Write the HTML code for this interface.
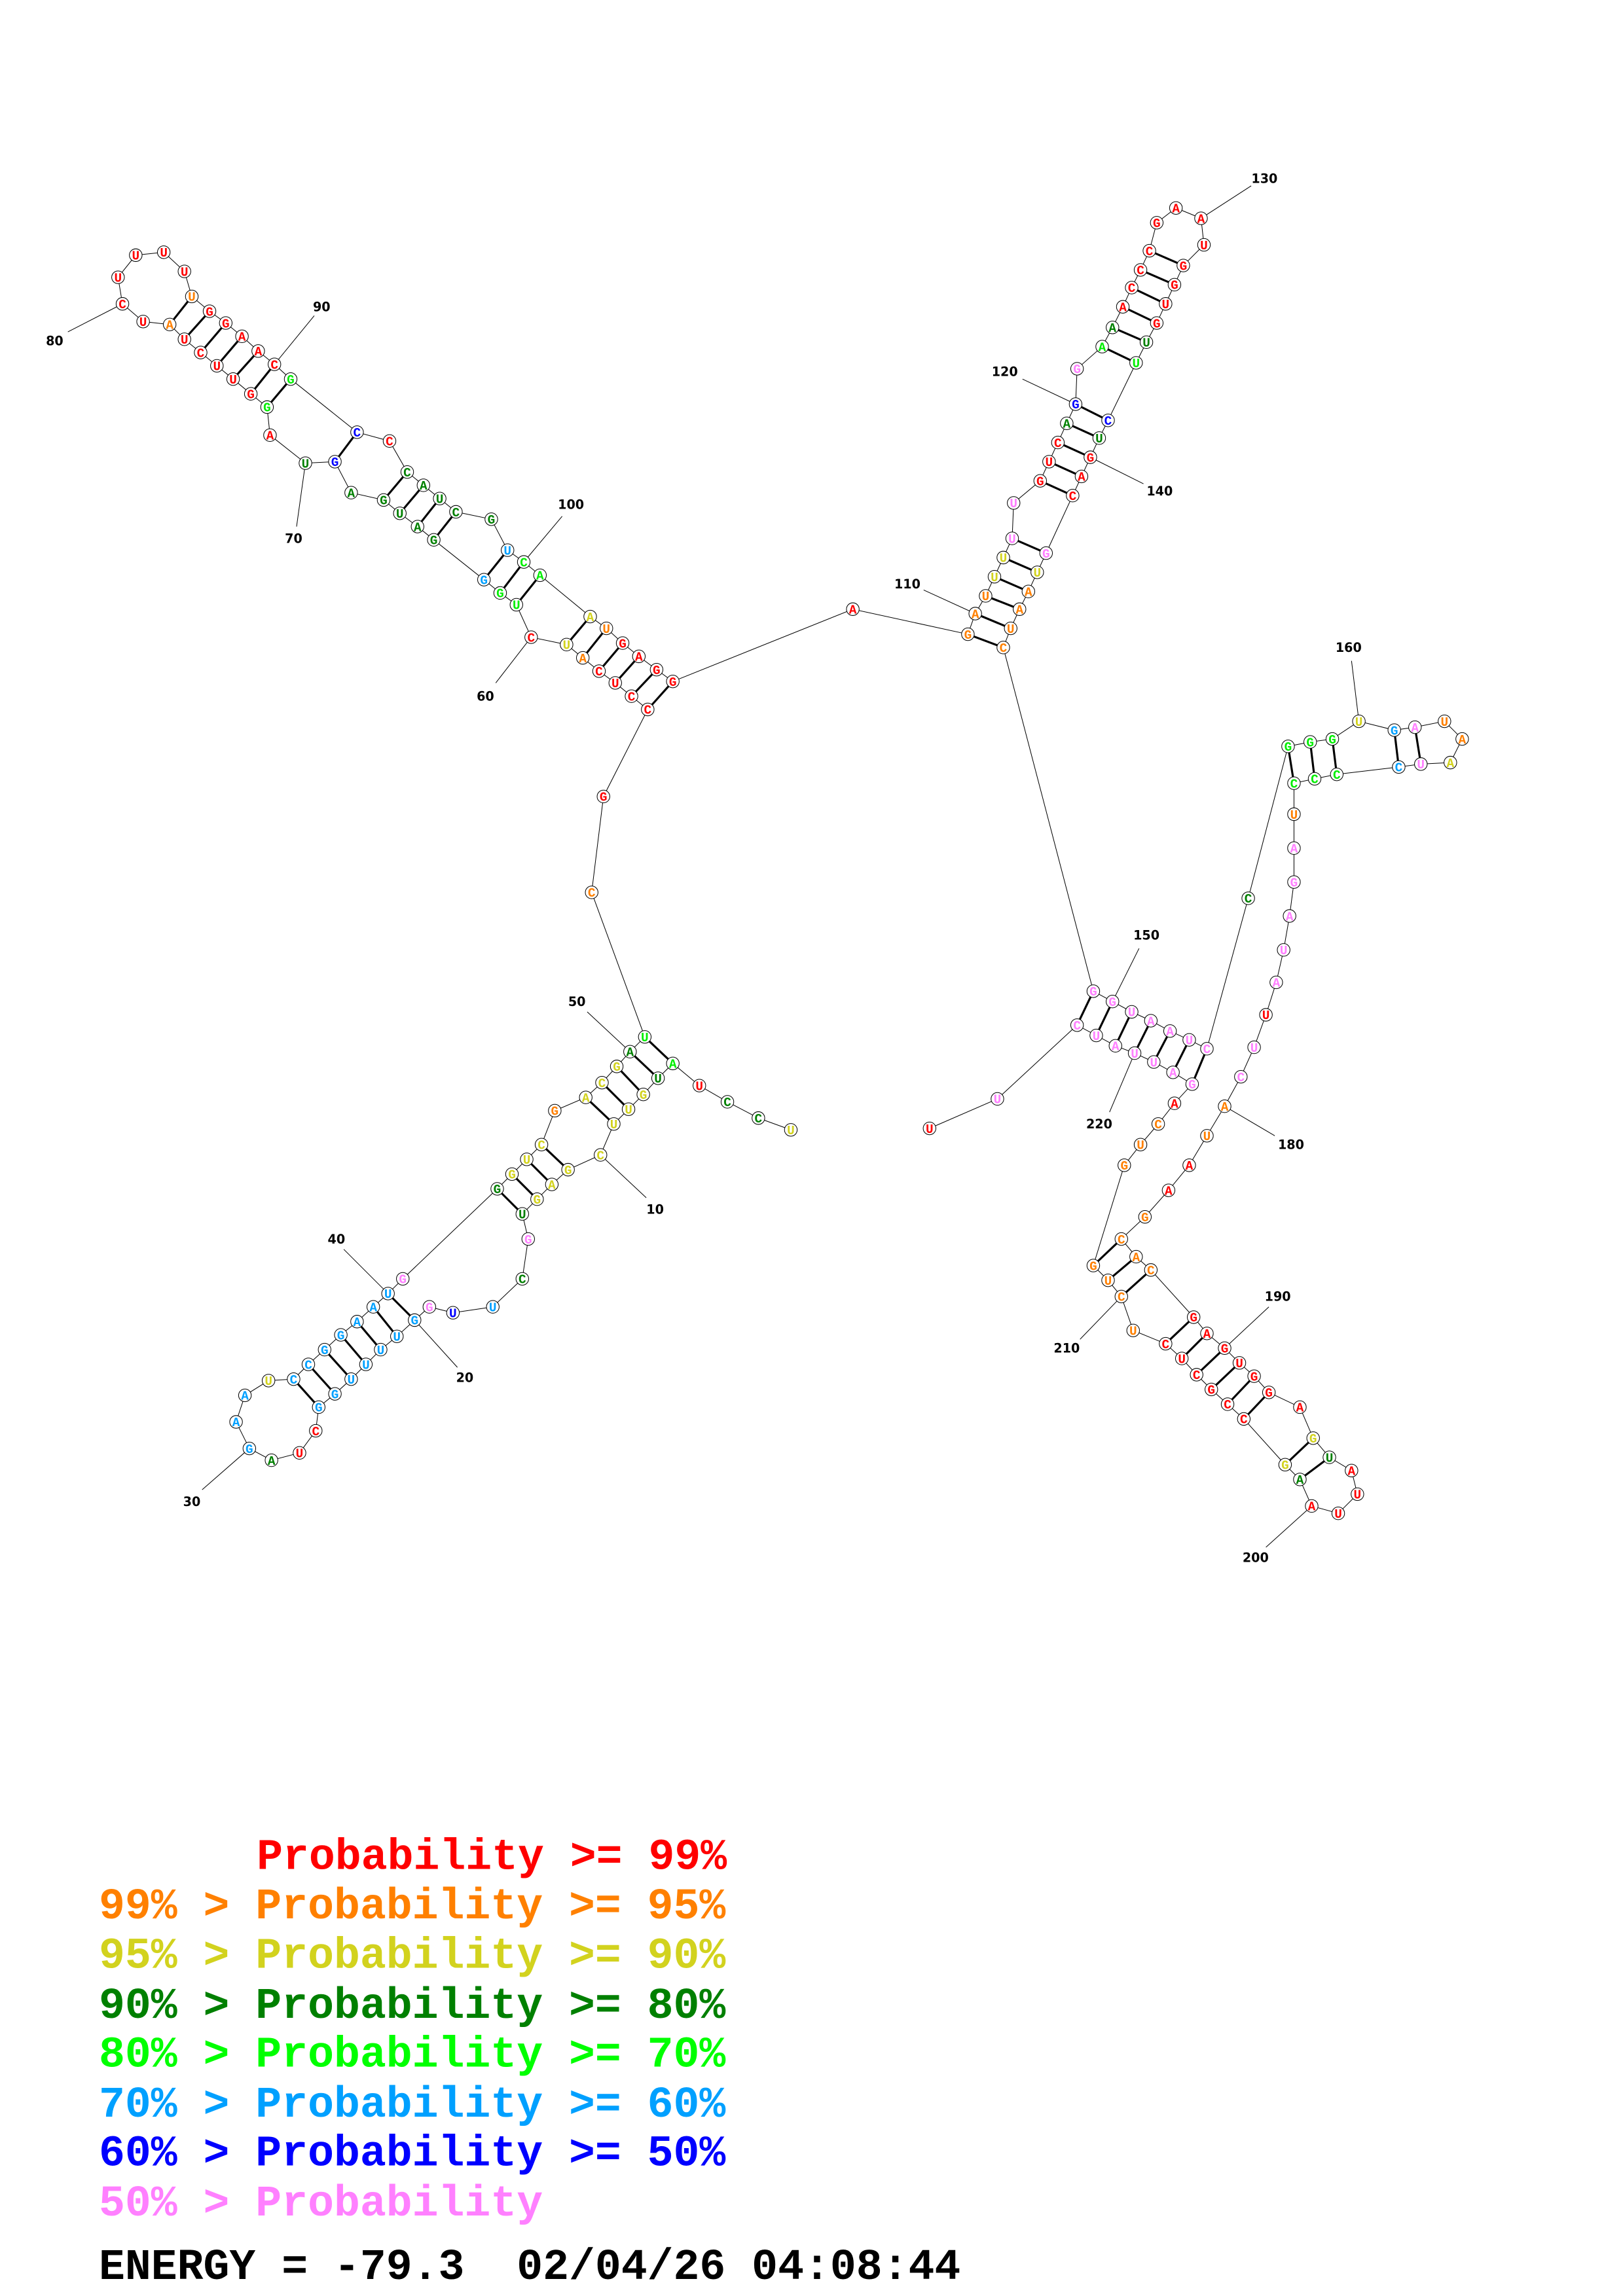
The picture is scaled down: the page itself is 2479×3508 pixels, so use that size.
<!DOCTYPE html>
<html><head><meta charset="utf-8">
<style>
html,body{margin:0;padding:0;background:#fff;}
svg{display:block;}
.n circle{fill:#fff;stroke:#000;stroke-width:0.45;}
.n text{font-family:"Liberation Mono",monospace;font-weight:bold;font-size:8.6px;text-anchor:middle;}
.R{fill:#ff0000}.O{fill:#ff8000}.Y{fill:#d2d21e}.D{fill:#008000}.G{fill:#00ee00}.C{fill:#00a0ff}.B{fill:#0000ff}.P{fill:#ff80ff}
.lb{font-family:"DejaVu Sans","Liberation Sans",sans-serif;font-weight:bold;font-size:8.5px;text-anchor:middle;fill:#000}
.lg{font-family:"Liberation Mono",monospace;font-weight:bold;font-size:29.5px;white-space:pre}
</style></head><body>
<svg width="2479" height="3508" viewBox="0 0 1100 1556.6" preserveAspectRatio="none" xmlns="http://www.w3.org/2000/svg">
<rect width="1100" height="1556.6" fill="#fff"/>
<polyline fill="none" stroke="#000" stroke-width="0.45" points="536,766 514,758 493,747 474,736 456,721 446,731 436,742 426,752 416,762 407,783 385,793 374,803 364,813 354,823 358,840 354,867 334,886 307,890 291,886 281,895 269,906 258,915 248,925 238,935 227,945 216,954 214,970 203,985 184,990 169,982 160,964 166,946 182,936 199,935 209,925 220,915 231,905 242,896 253,886 263,877 273,867 337,806 347,796 357,786 367,776 376,753 397,744 408,734 418,723 427,713 437,703 401,605 409,540 439,481 428,472 417,463 406,455 395,446 384,437 360,432 350,410 339,402 328,393 294,366 283,357 271,348 260,339 238,334 227,313 207,314 183,295 181,276 170,267 158,257 147,248 136,239 125,230 115,220 97,218 83,206 80,188 92,173 111,171 125,184 130,201 142,211 153,219 164,228 175,238 186,247 197,257 242,293 264,299 276,320 287,329 298,338 309,347 333,352 344,373 355,381 366,390 400,418 411,426 422,436 433,445 445,454 456,462 578,413 656,430 661,416 668,404 674,391 680,378 686,365 687,341 705,326 711,313 717,300 723,287 729,274 730,250 747,235 754,222 761,208 767,195 773,183 779,170 784,151 797,141 814,148 816,166 802,180 796,193 790,206 784,219 777,232 770,246 751,285 745,297 739,310 733,323 727,336 709,375 703,388 697,401 691,413 685,426 680,439 741,672 754,679 767,686 780,692 793,699 806,705 818,711 846,609 873,506 888,503 903,501 921,489 945,495 959,493 979,489 991,501 983,517 963,518 948,520 906,525 891,528 877,531 877,552 877,575 877,598 874,621 870,644 865,666 858,688 850,710 841,730 830,750 818,770 806,790 792,807 776,825 760,840 770,852 780,861 809,893 818,904 830,914 840,924 850,933 860,944 881,954 890,975 901,988 916,997 920,1013 907,1026 889,1021 881,1003 871,993 843,962 832,952 821,942 811,932 801,921 790,911 768,902 760,879 751,868 741,858 762,790 773,776 785,762 796,748 808,735 795,727 782,720 769,714 756,709 743,702 730,695 676,745 630,765"/>
<g stroke="#000" stroke-width="1.4">
<line x1="456" y1="721" x2="437" y2="703"/><line x1="446" y1="731" x2="427" y2="713"/><line x1="436" y1="742" x2="418" y2="723"/><line x1="426" y1="752" x2="408" y2="734"/><line x1="416" y1="762" x2="397" y2="744"/>
<line x1="385" y1="793" x2="367" y2="776"/><line x1="374" y1="803" x2="357" y2="786"/><line x1="364" y1="813" x2="347" y2="796"/><line x1="354" y1="823" x2="337" y2="806"/>
<line x1="281" y1="895" x2="263" y2="877"/><line x1="269" y1="906" x2="253" y2="886"/><line x1="258" y1="915" x2="242" y2="896"/><line x1="248" y1="925" x2="231" y2="905"/><line x1="238" y1="935" x2="220" y2="915"/><line x1="227" y1="945" x2="209" y2="925"/><line x1="216" y1="954" x2="199" y2="935"/>
<line x1="439" y1="481" x2="456" y2="462"/><line x1="428" y1="472" x2="445" y2="454"/><line x1="417" y1="463" x2="433" y2="445"/><line x1="406" y1="455" x2="422" y2="436"/><line x1="395" y1="446" x2="411" y2="426"/><line x1="384" y1="437" x2="400" y2="418"/>
<line x1="350" y1="410" x2="366" y2="390"/><line x1="339" y1="402" x2="355" y2="381"/><line x1="328" y1="393" x2="344" y2="373"/>
<line x1="294" y1="366" x2="309" y2="347"/><line x1="283" y1="357" x2="298" y2="338"/><line x1="271" y1="348" x2="287" y2="329"/><line x1="260" y1="339" x2="276" y2="320"/>
<line x1="227" y1="313" x2="242" y2="293"/>
<line x1="181" y1="276" x2="197" y2="257"/><line x1="170" y1="267" x2="186" y2="247"/><line x1="158" y1="257" x2="175" y2="238"/><line x1="147" y1="248" x2="164" y2="228"/><line x1="136" y1="239" x2="153" y2="219"/><line x1="125" y1="230" x2="142" y2="211"/><line x1="115" y1="220" x2="130" y2="201"/>
<line x1="656" y1="430" x2="680" y2="439"/><line x1="661" y1="416" x2="685" y2="426"/><line x1="668" y1="404" x2="691" y2="413"/><line x1="674" y1="391" x2="697" y2="401"/><line x1="680" y1="378" x2="703" y2="388"/><line x1="686" y1="365" x2="709" y2="375"/>
<line x1="705" y1="326" x2="727" y2="336"/><line x1="711" y1="313" x2="733" y2="323"/><line x1="717" y1="300" x2="739" y2="310"/><line x1="723" y1="287" x2="745" y2="297"/><line x1="729" y1="274" x2="751" y2="285"/>
<line x1="747" y1="235" x2="770" y2="246"/><line x1="754" y1="222" x2="777" y2="232"/><line x1="761" y1="208" x2="784" y2="219"/><line x1="767" y1="195" x2="790" y2="206"/><line x1="773" y1="183" x2="796" y2="193"/><line x1="779" y1="170" x2="802" y2="180"/>
<line x1="741" y1="672" x2="730" y2="695"/><line x1="754" y1="679" x2="743" y2="702"/><line x1="767" y1="686" x2="756" y2="709"/><line x1="780" y1="692" x2="769" y2="714"/><line x1="793" y1="699" x2="782" y2="720"/><line x1="806" y1="705" x2="795" y2="727"/><line x1="818" y1="711" x2="808" y2="735"/>
<line x1="873" y1="506" x2="877" y2="531"/><line x1="888" y1="503" x2="891" y2="528"/><line x1="903" y1="501" x2="906" y2="525"/><line x1="945" y1="495" x2="948" y2="520"/><line x1="959" y1="493" x2="963" y2="518"/>
<line x1="760" y1="840" x2="741" y2="858"/><line x1="770" y1="852" x2="751" y2="868"/><line x1="780" y1="861" x2="760" y2="879"/>
<line x1="809" y1="893" x2="790" y2="911"/><line x1="818" y1="904" x2="801" y2="921"/><line x1="830" y1="914" x2="811" y2="932"/><line x1="840" y1="924" x2="821" y2="942"/><line x1="850" y1="933" x2="832" y2="952"/><line x1="860" y1="944" x2="843" y2="962"/>
<line x1="890" y1="975" x2="871" y2="993"/><line x1="901" y1="988" x2="881" y2="1003"/>
</g>
<g stroke="#000" stroke-width="0.45">
<line x1="407" y1="783" x2="438" y2="812"/><line x1="281" y1="895" x2="310" y2="927"/><line x1="169" y1="982" x2="137" y2="1010"/><line x1="263" y1="877" x2="233" y2="847"/><line x1="427" y1="713" x2="398" y2="686"/><line x1="360" y1="432" x2="336" y2="463"/><line x1="207" y1="314" x2="201" y2="357"/><line x1="83" y1="206" x2="46" y2="225"/><line x1="186" y1="247" x2="213" y2="214"/><line x1="355" y1="381" x2="381" y2="350"/><line x1="661" y1="416" x2="626" y2="400"/><line x1="729" y1="274" x2="693" y2="257"/><line x1="814" y1="148" x2="848" y2="126"/><line x1="739" y1="310" x2="775" y2="328"/><line x1="754" y1="679" x2="772" y2="643"/><line x1="921" y1="489" x2="916" y2="448"/><line x1="830" y1="750" x2="864" y2="770"/><line x1="830" y1="914" x2="860" y2="886"/><line x1="889" y1="1021" x2="858" y2="1049"/><line x1="760" y1="879" x2="732" y2="908"/><line x1="769" y1="714" x2="752" y2="754"/>
</g>
<g class="lb">
<text x="444" y="823">10</text><text x="315" y="937">20</text><text x="130" y="1021">30</text><text x="228" y="843">40</text><text x="391" y="682">50</text><text x="329" y="475">60</text><text x="199" y="368">70</text><text x="37" y="234">80</text><text x="218" y="211">90</text><text x="387" y="345">100</text><text x="615" y="399">110</text><text x="681" y="255">120</text><text x="857" y="124">130</text><text x="786" y="336">140</text><text x="777" y="637">150</text><text x="914" y="442">160</text><text x="875" y="779">180</text><text x="866" y="882">190</text><text x="851" y="1059">200</text><text x="723" y="917">210</text><text x="745" y="765">220</text>
</g>
<g class="n">
<circle cx="536" cy="766" r="4.3"/><text x="536" y="769" class="Y">U</text>
<circle cx="514" cy="758" r="4.3"/><text x="514" y="761" class="D">C</text>
<circle cx="493" cy="747" r="4.3"/><text x="493" y="750" class="D">C</text>
<circle cx="474" cy="736" r="4.3"/><text x="474" y="739" class="R">U</text>
<circle cx="456" cy="721" r="4.3"/><text x="456" y="724" class="G">A</text>
<circle cx="446" cy="731" r="4.3"/><text x="446" y="734" class="D">U</text>
<circle cx="436" cy="742" r="4.3"/><text x="436" y="745" class="Y">G</text>
<circle cx="426" cy="752" r="4.3"/><text x="426" y="755" class="Y">U</text>
<circle cx="416" cy="762" r="4.3"/><text x="416" y="765" class="Y">U</text>
<circle cx="407" cy="783" r="4.3"/><text x="407" y="786" class="Y">C</text>
<circle cx="385" cy="793" r="4.3"/><text x="385" y="796" class="Y">G</text>
<circle cx="374" cy="803" r="4.3"/><text x="374" y="806" class="Y">A</text>
<circle cx="364" cy="813" r="4.3"/><text x="364" y="816" class="Y">G</text>
<circle cx="354" cy="823" r="4.3"/><text x="354" y="826" class="D">U</text>
<circle cx="358" cy="840" r="4.3"/><text x="358" y="843" class="P">G</text>
<circle cx="354" cy="867" r="4.3"/><text x="354" y="870" class="D">C</text>
<circle cx="334" cy="886" r="4.3"/><text x="334" y="889" class="C">U</text>
<circle cx="307" cy="890" r="4.3"/><text x="307" y="893" class="B">U</text>
<circle cx="291" cy="886" r="4.3"/><text x="291" y="889" class="P">G</text>
<circle cx="281" cy="895" r="4.3"/><text x="281" y="898" class="C">G</text>
<circle cx="269" cy="906" r="4.3"/><text x="269" y="909" class="C">U</text>
<circle cx="258" cy="915" r="4.3"/><text x="258" y="918" class="C">U</text>
<circle cx="248" cy="925" r="4.3"/><text x="248" y="928" class="C">U</text>
<circle cx="238" cy="935" r="4.3"/><text x="238" y="938" class="C">U</text>
<circle cx="227" cy="945" r="4.3"/><text x="227" y="948" class="C">G</text>
<circle cx="216" cy="954" r="4.3"/><text x="216" y="957" class="C">G</text>
<circle cx="214" cy="970" r="4.3"/><text x="214" y="973" class="R">C</text>
<circle cx="203" cy="985" r="4.3"/><text x="203" y="988" class="R">U</text>
<circle cx="184" cy="990" r="4.3"/><text x="184" y="993" class="D">A</text>
<circle cx="169" cy="982" r="4.3"/><text x="169" y="985" class="C">G</text>
<circle cx="160" cy="964" r="4.3"/><text x="160" y="967" class="C">A</text>
<circle cx="166" cy="946" r="4.3"/><text x="166" y="949" class="C">A</text>
<circle cx="182" cy="936" r="4.3"/><text x="182" y="939" class="Y">U</text>
<circle cx="199" cy="935" r="4.3"/><text x="199" y="938" class="C">C</text>
<circle cx="209" cy="925" r="4.3"/><text x="209" y="928" class="C">C</text>
<circle cx="220" cy="915" r="4.3"/><text x="220" y="918" class="C">G</text>
<circle cx="231" cy="905" r="4.3"/><text x="231" y="908" class="C">G</text>
<circle cx="242" cy="896" r="4.3"/><text x="242" y="899" class="C">A</text>
<circle cx="253" cy="886" r="4.3"/><text x="253" y="889" class="C">A</text>
<circle cx="263" cy="877" r="4.3"/><text x="263" y="880" class="C">U</text>
<circle cx="273" cy="867" r="4.3"/><text x="273" y="870" class="P">G</text>
<circle cx="337" cy="806" r="4.3"/><text x="337" y="809" class="D">G</text>
<circle cx="347" cy="796" r="4.3"/><text x="347" y="799" class="Y">G</text>
<circle cx="357" cy="786" r="4.3"/><text x="357" y="789" class="Y">U</text>
<circle cx="367" cy="776" r="4.3"/><text x="367" y="779" class="Y">C</text>
<circle cx="376" cy="753" r="4.3"/><text x="376" y="756" class="O">G</text>
<circle cx="397" cy="744" r="4.3"/><text x="397" y="747" class="Y">A</text>
<circle cx="408" cy="734" r="4.3"/><text x="408" y="737" class="Y">C</text>
<circle cx="418" cy="723" r="4.3"/><text x="418" y="726" class="Y">G</text>
<circle cx="427" cy="713" r="4.3"/><text x="427" y="716" class="D">A</text>
<circle cx="437" cy="703" r="4.3"/><text x="437" y="706" class="G">U</text>
<circle cx="401" cy="605" r="4.3"/><text x="401" y="608" class="O">C</text>
<circle cx="409" cy="540" r="4.3"/><text x="409" y="543" class="R">G</text>
<circle cx="439" cy="481" r="4.3"/><text x="439" y="484" class="R">C</text>
<circle cx="428" cy="472" r="4.3"/><text x="428" y="475" class="R">C</text>
<circle cx="417" cy="463" r="4.3"/><text x="417" y="466" class="R">U</text>
<circle cx="406" cy="455" r="4.3"/><text x="406" y="458" class="R">C</text>
<circle cx="395" cy="446" r="4.3"/><text x="395" y="449" class="O">A</text>
<circle cx="384" cy="437" r="4.3"/><text x="384" y="440" class="Y">U</text>
<circle cx="360" cy="432" r="4.3"/><text x="360" y="435" class="R">C</text>
<circle cx="350" cy="410" r="4.3"/><text x="350" y="413" class="G">U</text>
<circle cx="339" cy="402" r="4.3"/><text x="339" y="405" class="G">G</text>
<circle cx="328" cy="393" r="4.3"/><text x="328" y="396" class="C">G</text>
<circle cx="294" cy="366" r="4.3"/><text x="294" y="369" class="D">G</text>
<circle cx="283" cy="357" r="4.3"/><text x="283" y="360" class="D">A</text>
<circle cx="271" cy="348" r="4.3"/><text x="271" y="351" class="D">U</text>
<circle cx="260" cy="339" r="4.3"/><text x="260" y="342" class="D">G</text>
<circle cx="238" cy="334" r="4.3"/><text x="238" y="337" class="D">A</text>
<circle cx="227" cy="313" r="4.3"/><text x="227" y="316" class="B">G</text>
<circle cx="207" cy="314" r="4.3"/><text x="207" y="317" class="D">U</text>
<circle cx="183" cy="295" r="4.3"/><text x="183" y="298" class="R">A</text>
<circle cx="181" cy="276" r="4.3"/><text x="181" y="279" class="G">G</text>
<circle cx="170" cy="267" r="4.3"/><text x="170" y="270" class="R">G</text>
<circle cx="158" cy="257" r="4.3"/><text x="158" y="260" class="R">U</text>
<circle cx="147" cy="248" r="4.3"/><text x="147" y="251" class="R">U</text>
<circle cx="136" cy="239" r="4.3"/><text x="136" y="242" class="R">C</text>
<circle cx="125" cy="230" r="4.3"/><text x="125" y="233" class="R">U</text>
<circle cx="115" cy="220" r="4.3"/><text x="115" y="223" class="O">A</text>
<circle cx="97" cy="218" r="4.3"/><text x="97" y="221" class="R">U</text>
<circle cx="83" cy="206" r="4.3"/><text x="83" y="209" class="R">C</text>
<circle cx="80" cy="188" r="4.3"/><text x="80" y="191" class="R">U</text>
<circle cx="92" cy="173" r="4.3"/><text x="92" y="176" class="R">U</text>
<circle cx="111" cy="171" r="4.3"/><text x="111" y="174" class="R">U</text>
<circle cx="125" cy="184" r="4.3"/><text x="125" y="187" class="R">U</text>
<circle cx="130" cy="201" r="4.3"/><text x="130" y="204" class="O">U</text>
<circle cx="142" cy="211" r="4.3"/><text x="142" y="214" class="R">G</text>
<circle cx="153" cy="219" r="4.3"/><text x="153" y="222" class="R">G</text>
<circle cx="164" cy="228" r="4.3"/><text x="164" y="231" class="R">A</text>
<circle cx="175" cy="238" r="4.3"/><text x="175" y="241" class="R">A</text>
<circle cx="186" cy="247" r="4.3"/><text x="186" y="250" class="R">C</text>
<circle cx="197" cy="257" r="4.3"/><text x="197" y="260" class="G">G</text>
<circle cx="242" cy="293" r="4.3"/><text x="242" y="296" class="B">C</text>
<circle cx="264" cy="299" r="4.3"/><text x="264" y="302" class="R">C</text>
<circle cx="276" cy="320" r="4.3"/><text x="276" y="323" class="D">C</text>
<circle cx="287" cy="329" r="4.3"/><text x="287" y="332" class="D">A</text>
<circle cx="298" cy="338" r="4.3"/><text x="298" y="341" class="D">U</text>
<circle cx="309" cy="347" r="4.3"/><text x="309" y="350" class="D">C</text>
<circle cx="333" cy="352" r="4.3"/><text x="333" y="355" class="D">G</text>
<circle cx="344" cy="373" r="4.3"/><text x="344" y="376" class="C">U</text>
<circle cx="355" cy="381" r="4.3"/><text x="355" y="384" class="G">C</text>
<circle cx="366" cy="390" r="4.3"/><text x="366" y="393" class="G">A</text>
<circle cx="400" cy="418" r="4.3"/><text x="400" y="421" class="Y">A</text>
<circle cx="411" cy="426" r="4.3"/><text x="411" y="429" class="O">U</text>
<circle cx="422" cy="436" r="4.3"/><text x="422" y="439" class="R">G</text>
<circle cx="433" cy="445" r="4.3"/><text x="433" y="448" class="R">A</text>
<circle cx="445" cy="454" r="4.3"/><text x="445" y="457" class="R">G</text>
<circle cx="456" cy="462" r="4.3"/><text x="456" y="465" class="R">G</text>
<circle cx="578" cy="413" r="4.3"/><text x="578" y="416" class="R">A</text>
<circle cx="656" cy="430" r="4.3"/><text x="656" y="433" class="O">G</text>
<circle cx="661" cy="416" r="4.3"/><text x="661" y="419" class="O">A</text>
<circle cx="668" cy="404" r="4.3"/><text x="668" y="407" class="O">U</text>
<circle cx="674" cy="391" r="4.3"/><text x="674" y="394" class="Y">U</text>
<circle cx="680" cy="378" r="4.3"/><text x="680" y="381" class="Y">U</text>
<circle cx="686" cy="365" r="4.3"/><text x="686" y="368" class="P">U</text>
<circle cx="687" cy="341" r="4.3"/><text x="687" y="344" class="P">U</text>
<circle cx="705" cy="326" r="4.3"/><text x="705" y="329" class="R">G</text>
<circle cx="711" cy="313" r="4.3"/><text x="711" y="316" class="R">U</text>
<circle cx="717" cy="300" r="4.3"/><text x="717" y="303" class="R">C</text>
<circle cx="723" cy="287" r="4.3"/><text x="723" y="290" class="D">A</text>
<circle cx="729" cy="274" r="4.3"/><text x="729" y="277" class="B">G</text>
<circle cx="730" cy="250" r="4.3"/><text x="730" y="253" class="P">G</text>
<circle cx="747" cy="235" r="4.3"/><text x="747" y="238" class="G">A</text>
<circle cx="754" cy="222" r="4.3"/><text x="754" y="225" class="D">A</text>
<circle cx="761" cy="208" r="4.3"/><text x="761" y="211" class="R">A</text>
<circle cx="767" cy="195" r="4.3"/><text x="767" y="198" class="R">C</text>
<circle cx="773" cy="183" r="4.3"/><text x="773" y="186" class="R">C</text>
<circle cx="779" cy="170" r="4.3"/><text x="779" y="173" class="R">C</text>
<circle cx="784" cy="151" r="4.3"/><text x="784" y="154" class="R">G</text>
<circle cx="797" cy="141" r="4.3"/><text x="797" y="144" class="R">A</text>
<circle cx="814" cy="148" r="4.3"/><text x="814" y="151" class="R">A</text>
<circle cx="816" cy="166" r="4.3"/><text x="816" y="169" class="R">U</text>
<circle cx="802" cy="180" r="4.3"/><text x="802" y="183" class="R">G</text>
<circle cx="796" cy="193" r="4.3"/><text x="796" y="196" class="R">G</text>
<circle cx="790" cy="206" r="4.3"/><text x="790" y="209" class="R">U</text>
<circle cx="784" cy="219" r="4.3"/><text x="784" y="222" class="R">G</text>
<circle cx="777" cy="232" r="4.3"/><text x="777" y="235" class="D">U</text>
<circle cx="770" cy="246" r="4.3"/><text x="770" y="249" class="G">U</text>
<circle cx="751" cy="285" r="4.3"/><text x="751" y="288" class="B">C</text>
<circle cx="745" cy="297" r="4.3"/><text x="745" y="300" class="D">U</text>
<circle cx="739" cy="310" r="4.3"/><text x="739" y="313" class="R">G</text>
<circle cx="733" cy="323" r="4.3"/><text x="733" y="326" class="R">A</text>
<circle cx="727" cy="336" r="4.3"/><text x="727" y="339" class="R">C</text>
<circle cx="709" cy="375" r="4.3"/><text x="709" y="378" class="P">G</text>
<circle cx="703" cy="388" r="4.3"/><text x="703" y="391" class="Y">U</text>
<circle cx="697" cy="401" r="4.3"/><text x="697" y="404" class="O">A</text>
<circle cx="691" cy="413" r="4.3"/><text x="691" y="416" class="O">A</text>
<circle cx="685" cy="426" r="4.3"/><text x="685" y="429" class="O">U</text>
<circle cx="680" cy="439" r="4.3"/><text x="680" y="442" class="O">C</text>
<circle cx="741" cy="672" r="4.3"/><text x="741" y="675" class="P">G</text>
<circle cx="754" cy="679" r="4.3"/><text x="754" y="682" class="P">G</text>
<circle cx="767" cy="686" r="4.3"/><text x="767" y="689" class="P">U</text>
<circle cx="780" cy="692" r="4.3"/><text x="780" y="695" class="P">A</text>
<circle cx="793" cy="699" r="4.3"/><text x="793" y="702" class="P">A</text>
<circle cx="806" cy="705" r="4.3"/><text x="806" y="708" class="P">U</text>
<circle cx="818" cy="711" r="4.3"/><text x="818" y="714" class="P">C</text>
<circle cx="846" cy="609" r="4.3"/><text x="846" y="612" class="D">C</text>
<circle cx="873" cy="506" r="4.3"/><text x="873" y="509" class="G">G</text>
<circle cx="888" cy="503" r="4.3"/><text x="888" y="506" class="G">G</text>
<circle cx="903" cy="501" r="4.3"/><text x="903" y="504" class="G">G</text>
<circle cx="921" cy="489" r="4.3"/><text x="921" y="492" class="Y">U</text>
<circle cx="945" cy="495" r="4.3"/><text x="945" y="498" class="C">G</text>
<circle cx="959" cy="493" r="4.3"/><text x="959" y="496" class="P">A</text>
<circle cx="979" cy="489" r="4.3"/><text x="979" y="492" class="O">U</text>
<circle cx="991" cy="501" r="4.3"/><text x="991" y="504" class="O">A</text>
<circle cx="983" cy="517" r="4.3"/><text x="983" y="520" class="Y">A</text>
<circle cx="963" cy="518" r="4.3"/><text x="963" y="521" class="P">U</text>
<circle cx="948" cy="520" r="4.3"/><text x="948" y="523" class="C">C</text>
<circle cx="906" cy="525" r="4.3"/><text x="906" y="528" class="G">C</text>
<circle cx="891" cy="528" r="4.3"/><text x="891" y="531" class="G">C</text>
<circle cx="877" cy="531" r="4.3"/><text x="877" y="534" class="G">C</text>
<circle cx="877" cy="552" r="4.3"/><text x="877" y="555" class="O">U</text>
<circle cx="877" cy="575" r="4.3"/><text x="877" y="578" class="P">A</text>
<circle cx="877" cy="598" r="4.3"/><text x="877" y="601" class="P">G</text>
<circle cx="874" cy="621" r="4.3"/><text x="874" y="624" class="P">A</text>
<circle cx="870" cy="644" r="4.3"/><text x="870" y="647" class="P">U</text>
<circle cx="865" cy="666" r="4.3"/><text x="865" y="669" class="P">A</text>
<circle cx="858" cy="688" r="4.3"/><text x="858" y="691" class="R">U</text>
<circle cx="850" cy="710" r="4.3"/><text x="850" y="713" class="P">U</text>
<circle cx="841" cy="730" r="4.3"/><text x="841" y="733" class="P">C</text>
<circle cx="830" cy="750" r="4.3"/><text x="830" y="753" class="O">A</text>
<circle cx="818" cy="770" r="4.3"/><text x="818" y="773" class="O">U</text>
<circle cx="806" cy="790" r="4.3"/><text x="806" y="793" class="R">A</text>
<circle cx="792" cy="807" r="4.3"/><text x="792" y="810" class="R">A</text>
<circle cx="776" cy="825" r="4.3"/><text x="776" y="828" class="O">G</text>
<circle cx="760" cy="840" r="4.3"/><text x="760" y="843" class="O">C</text>
<circle cx="770" cy="852" r="4.3"/><text x="770" y="855" class="O">A</text>
<circle cx="780" cy="861" r="4.3"/><text x="780" y="864" class="O">C</text>
<circle cx="809" cy="893" r="4.3"/><text x="809" y="896" class="R">G</text>
<circle cx="818" cy="904" r="4.3"/><text x="818" y="907" class="R">A</text>
<circle cx="830" cy="914" r="4.3"/><text x="830" y="917" class="R">G</text>
<circle cx="840" cy="924" r="4.3"/><text x="840" y="927" class="R">U</text>
<circle cx="850" cy="933" r="4.3"/><text x="850" y="936" class="R">G</text>
<circle cx="860" cy="944" r="4.3"/><text x="860" y="947" class="R">G</text>
<circle cx="881" cy="954" r="4.3"/><text x="881" y="957" class="R">A</text>
<circle cx="890" cy="975" r="4.3"/><text x="890" y="978" class="Y">G</text>
<circle cx="901" cy="988" r="4.3"/><text x="901" y="991" class="D">U</text>
<circle cx="916" cy="997" r="4.3"/><text x="916" y="1000" class="R">A</text>
<circle cx="920" cy="1013" r="4.3"/><text x="920" y="1016" class="R">U</text>
<circle cx="907" cy="1026" r="4.3"/><text x="907" y="1029" class="R">U</text>
<circle cx="889" cy="1021" r="4.3"/><text x="889" y="1024" class="R">A</text>
<circle cx="881" cy="1003" r="4.3"/><text x="881" y="1006" class="D">A</text>
<circle cx="871" cy="993" r="4.3"/><text x="871" y="996" class="Y">G</text>
<circle cx="843" cy="962" r="4.3"/><text x="843" y="965" class="R">C</text>
<circle cx="832" cy="952" r="4.3"/><text x="832" y="955" class="R">C</text>
<circle cx="821" cy="942" r="4.3"/><text x="821" y="945" class="R">G</text>
<circle cx="811" cy="932" r="4.3"/><text x="811" y="935" class="R">C</text>
<circle cx="801" cy="921" r="4.3"/><text x="801" y="924" class="R">U</text>
<circle cx="790" cy="911" r="4.3"/><text x="790" y="914" class="R">C</text>
<circle cx="768" cy="902" r="4.3"/><text x="768" y="905" class="O">U</text>
<circle cx="760" cy="879" r="4.3"/><text x="760" y="882" class="O">C</text>
<circle cx="751" cy="868" r="4.3"/><text x="751" y="871" class="O">U</text>
<circle cx="741" cy="858" r="4.3"/><text x="741" y="861" class="O">G</text>
<circle cx="762" cy="790" r="4.3"/><text x="762" y="793" class="O">G</text>
<circle cx="773" cy="776" r="4.3"/><text x="773" y="779" class="O">U</text>
<circle cx="785" cy="762" r="4.3"/><text x="785" y="765" class="O">C</text>
<circle cx="796" cy="748" r="4.3"/><text x="796" y="751" class="R">A</text>
<circle cx="808" cy="735" r="4.3"/><text x="808" y="738" class="P">G</text>
<circle cx="795" cy="727" r="4.3"/><text x="795" y="730" class="P">A</text>
<circle cx="782" cy="720" r="4.3"/><text x="782" y="723" class="P">U</text>
<circle cx="769" cy="714" r="4.3"/><text x="769" y="717" class="P">U</text>
<circle cx="756" cy="709" r="4.3"/><text x="756" y="712" class="P">A</text>
<circle cx="743" cy="702" r="4.3"/><text x="743" y="705" class="P">U</text>
<circle cx="730" cy="695" r="4.3"/><text x="730" y="698" class="P">C</text>
<circle cx="676" cy="745" r="4.3"/><text x="676" y="748" class="P">U</text>
<circle cx="630" cy="765" r="4.3"/><text x="630" y="768" class="R">U</text>
</g>
<g class="lg">
<text x="174" y="1267" fill="#ff0000">Probability &gt;= 99%</text>
<text x="67" y="1300.6" fill="#ff8000">99% &gt; Probability &gt;= 95%</text>
<text x="67" y="1334" fill="#d2d21e">95% &gt; Probability &gt;= 90%</text>
<text x="67" y="1368" fill="#008000">90% &gt; Probability &gt;= 80%</text>
<text x="67" y="1401" fill="#00ff00">80% &gt; Probability &gt;= 70%</text>
<text x="67" y="1435" fill="#00a0ff">70% &gt; Probability &gt;= 60%</text>
<text x="67" y="1468" fill="#0000ff">60% &gt; Probability &gt;= 50%</text>
<text x="67" y="1502" fill="#ff80ff">50% &gt; Probability</text>
<text x="67" y="1545" fill="#000">ENERGY = -79.3&#160; 02/04/26 04:08:44</text>
</g>
</svg>
</body></html>
